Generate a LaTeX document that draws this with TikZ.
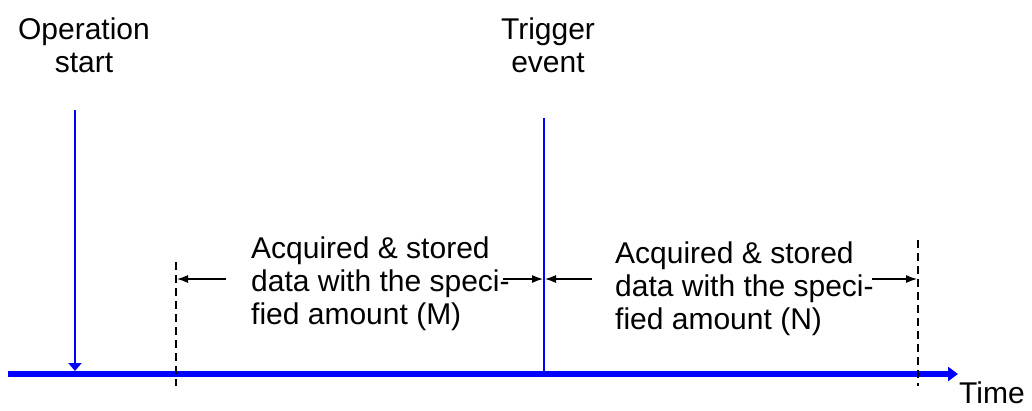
\documentclass[tikz,border=0pt]{standalone}
\usepackage{fontspec}
\setmainfont{Liberation Sans}
\usetikzlibrary{arrows.meta}
\begin{document}
\begin{tikzpicture}[x=1pt, y=-1pt, font=\fontsize{30}{33}\selectfont,
    marker/.style={blue, line width=2.8pt},
    cut/.style={black, line width=2pt, dash pattern=on 8pt off 5pt},
    span/.style={black, line width=1.2pt, -{Latex[length=11pt,width=8pt]}}]
    \useasboundingbox (0,0) rectangle (1032,410);
    % Nodes
    \node[align=center] (opLabel) at (84,45) {Operation\\start};
    \node[align=center] (trigLabel) at (548,45) {Trigger\\event};
    \node[anchor=base west, inner sep=0] (timeLabel) at (959,403) {Time};
    \node[align=left, anchor=west, inner sep=0] (amountM) at (251,284) {Acquired \& stored\\data with the speci-\\fied amount (M)};
    \node[align=left, anchor=west, inner sep=0] (amountN) at (615,289) {Acquired \& stored\\data with the speci-\\fied amount (N)};

    \coordinate (axisL) at (8,374);
    \coordinate (axisR) at (958,374);
    \coordinate (opTop) at (75,110);
    \coordinate (opBot) at (75,371);
    \coordinate (trigTop) at (544,118);
    \coordinate (trigBot) at (544,377);
    \coordinate (cutA) at (176,262);
    \coordinate (cutAbot) at (176,386);
    \coordinate (cutB) at (918,240);
    \coordinate (cutBbot) at (918,386);
    \coordinate (mL) at (226,279);
    \coordinate (mLend) at (177,279);
    \coordinate (mR) at (503,279);
    \coordinate (mRend) at (543,279);
    \coordinate (nL) at (592,279);
    \coordinate (nLend) at (545,279);
    \coordinate (nR) at (872,279);
    \coordinate (nRend) at (917,279);

    % Edges
    \draw[blue, line width=6pt, -{Triangle[length=10pt,width=14pt]}] (axisL) -- (axisR);
    \draw[marker, -{Triangle[length=8pt,width=13pt]}] (opTop) -- (opBot);
    \draw[marker] (trigTop) -- (trigBot);
    \draw[cut] (cutA) -- (cutAbot);
    \draw[cut] (cutB) -- (cutBbot);
    \draw[span] (mL) -- (mLend);
    \draw[span] (mR) -- (mRend);
    \draw[span] (nL) -- (nLend);
    \draw[span] (nR) -- (nRend);
\end{tikzpicture}
\end{document}
